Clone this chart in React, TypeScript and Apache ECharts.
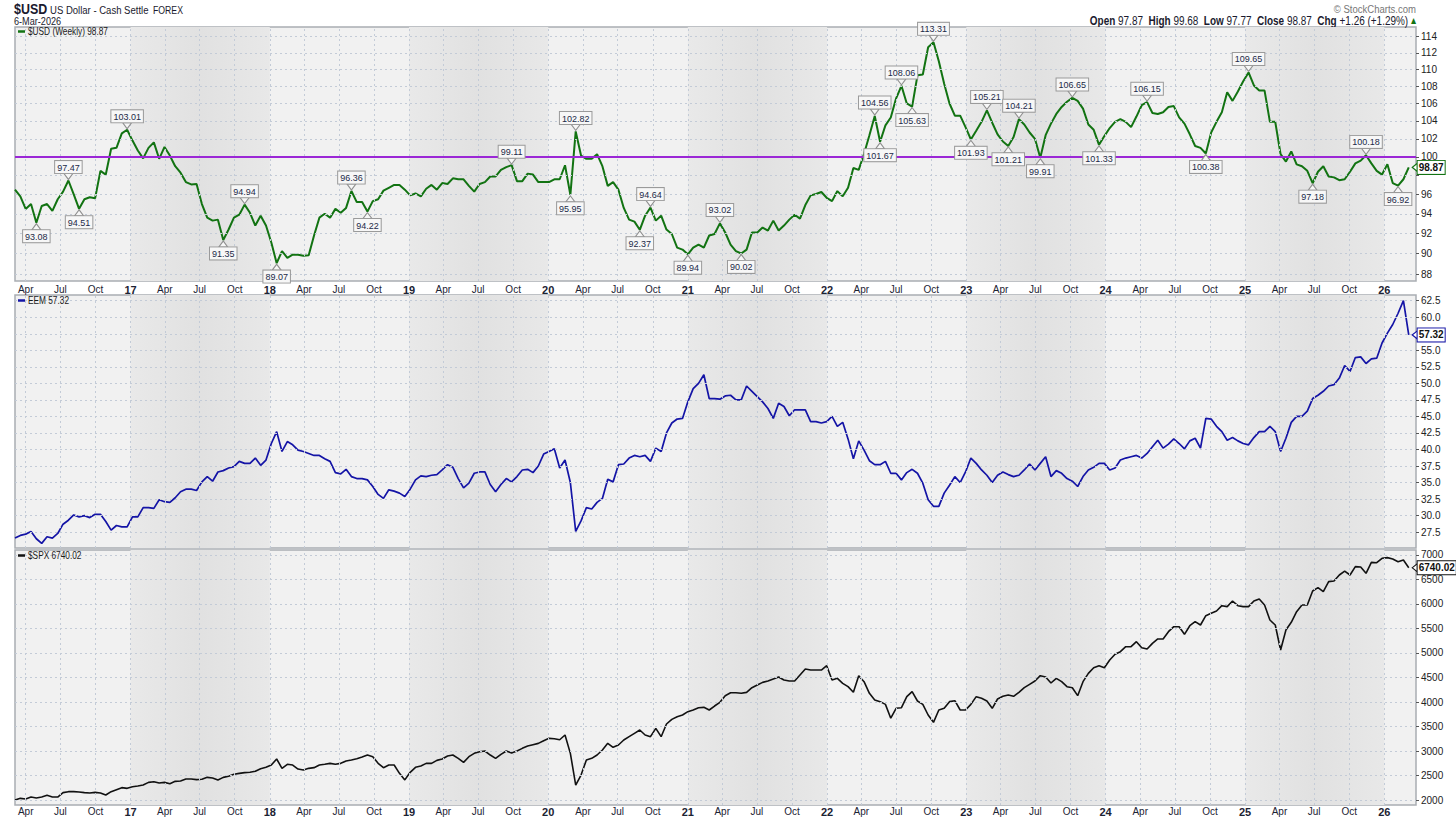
import React, { useEffect, useRef } from 'react';
import * as echarts from 'echarts';

// ---------- time base (weekly closes sampled every two weeks) ----------
const START = Date.UTC(2016, 2, 4);
const AXIS_END = Date.UTC(2026, 2, 25);
const STEP_DAYS = 14;
const DAY = 86400000;

// ---------- data ----------
const usdValues = [
  96.5, 95.8, 94.5, 95.0, 93.08, 94.8, 95.0, 94.3, 95.5, 96.3,
  97.47, 96.0, 94.51, 95.5, 95.7, 95.6, 98.5, 98.1, 100.9, 101.0,
  102.6, 103.01, 101.8, 100.7, 99.85, 101.0, 101.6, 99.8, 101.1, 100.15,
  99.0, 98.3, 97.3, 97.05, 97.1, 95.0, 93.6, 93.3, 93.4, 91.35,
  92.4, 93.6, 93.9, 94.94, 94.1, 92.8, 93.8, 92.8, 91.1, 89.07,
  90.25, 89.6, 89.9, 89.9, 89.8, 89.85, 91.8, 93.6, 94.0, 93.6,
  94.5, 94.1, 94.6, 96.36, 95.2, 95.2, 94.22, 95.3, 95.5, 96.4,
  96.7, 97.0, 97.0, 96.5, 95.9, 96.1, 95.8, 96.6, 97.0, 96.5,
  97.2, 97.1, 97.7, 97.6, 97.6, 96.9, 96.3, 97.1, 97.3, 97.9,
  97.9, 98.6, 98.9, 99.11, 97.4, 97.4, 98.2, 98.1, 97.3, 97.3,
  97.3, 97.6, 97.6, 99.1, 95.95, 102.82, 100.15, 99.8, 99.8, 100.3,
  99.0, 96.9, 97.3, 96.5, 94.6, 93.4, 93.2, 92.37, 93.8, 94.64,
  93.3, 93.8, 92.4, 91.95, 90.6, 90.4, 89.94, 90.6, 90.9, 90.6,
  91.8, 91.95, 93.02, 92.1, 90.9, 90.25, 90.02, 90.4, 92.1, 92.1,
  92.6, 92.3, 93.3, 92.3, 92.8, 93.4, 93.9, 93.5, 94.9, 95.9,
  96.05, 96.25, 95.65, 95.3, 96.35, 95.8, 96.7, 98.8, 98.6, 100.35,
  102.4, 104.56, 101.67, 103.5, 104.4, 106.6, 108.06, 106.0, 105.63, 109.3,
  109.4, 112.7, 113.31, 111.0, 108.3, 106.0, 104.6, 104.6, 103.3, 101.93,
  102.9, 103.9, 105.21, 103.8, 102.5, 101.7, 101.21, 102.2, 104.21, 103.6,
  102.7, 102.0, 99.91, 102.4, 103.7, 104.8, 105.6, 106.2, 106.65, 106.3,
  105.4, 103.6, 103.0, 101.33, 102.3, 103.2, 103.9, 104.2, 103.9, 103.3,
  104.5, 105.8, 106.15, 104.9, 104.8, 105.0, 105.6, 105.7, 104.4, 103.7,
  102.5, 101.2, 101.0, 100.38, 102.7, 103.9, 105.0, 107.3, 106.3, 107.4,
  108.6, 109.65, 108.1, 107.5, 107.5, 103.9, 103.9, 100.3, 99.5, 100.6,
  99.2, 99.0, 98.5, 97.18, 98.4, 99.0, 97.9, 97.8, 97.5, 97.6,
  98.4, 99.3, 99.6, 100.18, 99.3, 98.5, 98.1, 99.2, 97.2, 96.92,
  97.6, 98.87,
];

const eemValues = [
  26.6, 27.0, 27.2, 27.6, 26.5, 25.8, 26.8, 26.6, 27.3, 28.7,
  29.3, 30.1, 29.8, 30.0, 29.7, 30.2, 30.2, 29.1, 27.8, 28.5,
  28.3, 28.3, 29.8, 29.8, 31.2, 31.2, 31.1, 32.4, 32.1, 32.0,
  32.7, 33.6, 34.0, 34.0, 33.8, 35.1, 35.9, 35.2, 36.6, 36.8,
  37.2, 37.4, 38.2, 37.9, 37.9, 38.7, 37.6, 38.4, 40.9, 42.7,
  39.7, 41.2, 40.7, 39.9, 39.7, 39.4, 39.1, 39.1, 38.6, 38.2,
  36.5, 36.3, 37.0, 35.9, 35.6, 35.6, 35.4, 34.4, 33.2, 32.6,
  33.9, 33.7, 33.4, 32.9, 34.0, 35.4, 36.0, 35.9, 36.1, 36.2,
  36.9, 37.7, 37.3, 35.6, 34.2, 34.9, 36.4, 36.6, 36.6, 34.7,
  33.6, 34.7, 35.6, 35.1, 35.9, 36.9, 37.0, 36.5, 37.5, 39.3,
  39.7, 40.1, 37.2, 38.4, 35.0, 27.6, 29.2, 31.2, 31.0, 32.0,
  32.6, 35.5, 35.1, 37.7, 37.8, 38.7, 39.1, 38.9, 39.1, 38.2,
  40.2, 39.7, 42.5, 44.0, 44.6, 44.7, 47.2, 49.2, 50.0, 51.3,
  47.7, 47.7, 47.6, 48.1, 48.2, 47.5, 47.5, 49.6, 48.8, 48.0,
  47.2, 46.2, 44.7, 47.0, 46.5, 45.1, 46.0, 46.0, 46.0, 44.2,
  44.2, 44.0, 44.2, 45.0, 43.5, 44.1, 41.6, 38.6, 41.3, 39.9,
  38.3, 37.7, 37.7, 38.2, 36.4, 36.4, 35.4, 36.5, 37.0, 36.4,
  34.9, 32.4, 31.4, 31.4, 33.4, 34.6, 35.9, 35.0, 36.6, 38.7,
  37.9, 36.9, 36.1, 35.0, 36.1, 36.6, 36.2, 35.9, 36.1, 36.9,
  37.8, 36.9, 37.9, 38.9, 35.9, 36.8, 36.4, 35.6, 35.2, 34.4,
  35.9, 36.9, 37.3, 37.9, 37.9, 36.9, 37.2, 38.4, 38.7, 38.9,
  39.1, 38.7, 39.4, 40.4, 41.4, 40.2, 40.8, 41.6, 40.9, 40.1,
  41.3, 41.7, 40.2, 44.7, 44.6, 43.5, 42.7, 41.4, 41.8, 41.3,
  40.9, 40.7, 41.8, 42.7, 42.7, 43.5, 42.7, 39.7, 41.7, 44.1,
  45.0, 45.0, 45.8, 47.7, 48.2, 48.8, 49.6, 49.8, 50.8, 52.7,
  51.8, 53.9, 54.0, 53.0, 53.7, 53.8, 56.1, 57.6, 58.9, 60.6,
  62.5, 57.32,
];

const spxValues = [
  2000, 2034, 2020, 2061, 2041, 2061, 2095, 2061, 2060, 2150,
  2170, 2170, 2163, 2150, 2143, 2156, 2143, 2102, 2170, 2211,
  2252, 2238, 2272, 2286, 2306, 2360, 2374, 2347, 2360, 2333,
  2381, 2388, 2428, 2428, 2415, 2422, 2462, 2449, 2408, 2462,
  2483, 2524, 2544, 2558, 2565, 2585, 2639, 2667, 2714, 2837,
  2646, 2728, 2714, 2632, 2612, 2646, 2660, 2714, 2728, 2748,
  2728, 2748, 2796, 2816, 2843, 2877, 2918, 2884, 2748, 2660,
  2714, 2714, 2544, 2410, 2565, 2667, 2694, 2748, 2748, 2809,
  2837, 2898, 2918, 2850, 2768, 2884, 2952, 2986, 3000, 2918,
  2850, 2932, 3000, 2959, 3000, 3054, 3102, 3129, 3156, 3211,
  3258, 3250, 3230, 3327, 2952, 2305, 2510, 2816, 2850, 2918,
  3020, 3156, 3075, 3122, 3224, 3292, 3360, 3428, 3326, 3292,
  3462, 3292, 3551, 3646, 3700, 3735, 3803, 3837, 3884, 3891,
  3837, 3918, 3993, 4129, 4190, 4190, 4177, 4197, 4292, 4347,
  4401, 4428, 4469, 4510, 4449, 4428, 4428, 4551, 4673, 4653,
  4653, 4653, 4741, 4449, 4483, 4381, 4313, 4200, 4537, 4415,
  4177, 4041, 4007, 3952, 3670, 3871, 3884, 4109, 4211, 4020,
  3952, 3735, 3585, 3837, 3871, 4007, 4027, 3837, 3837, 3952,
  4109, 4075, 4020, 3871, 4061, 4116, 4143, 4116, 4197, 4292,
  4360, 4428, 4537, 4510, 4388, 4483, 4415, 4313, 4292, 4129,
  4415, 4585, 4700, 4741, 4700, 4857, 4973, 5027, 5129, 5129,
  5231, 5109, 5082, 5197, 5286, 5286, 5435, 5537, 5537, 5381,
  5557, 5639, 5571, 5762, 5810, 5857, 5966, 5946, 6061, 5966,
  5946, 5946, 6061, 6102, 5980, 5673, 5571, 5062, 5469, 5626,
  5843, 5980, 5980, 6265, 6333, 6252, 6456, 6469, 6592, 6673,
  6592, 6762, 6755, 6626, 6850, 6843, 6932, 6946, 6918, 6864,
  6898, 6740.02,
];

// annotated swing highs / lows on the $USD panel (indices into usdValues)
const usdPeakIdx = [10, 21, 43, 63, 93, 105, 119, 132, 161, 166, 172, 182, 188, 198, 212, 231, 253];
const usdTroughIdx = [4, 12, 39, 49, 66, 104, 117, 126, 136, 162, 168, 179, 186, 192, 203, 223, 243, 259];

// ---------- axes ----------
const usdTicks = [88, 90, 92, 94, 96, 98, 100, 102, 104, 106, 108, 110, 112, 114];
const usdTickLabels = [88, 90, 92, 94, 96, 100, 102, 104, 106, 108, 110, 112, 114]; // 98 sits under the price tag
const eemTicks = [27.5, 30, 32.5, 35, 37.5, 40, 42.5, 45, 47.5, 50, 52.5, 55, 57.5, 60, 62.5];
const eemTickLabels = [27.5, 30, 32.5, 35, 37.5, 40, 42.5, 45, 47.5, 50, 52.5, 55, 60, 62.5]; // 57.5 sits under the tag
const spxTicks = [2000, 2500, 3000, 3500, 4000, 4500, 5000, 5500, 6000, 6500, 7000];
const usdRange = [87.36, 115.21];
const eemRange = [25.1, 63.36];
const spxRange = [1898, 7102];
const usdRefLevel = 100;
const tickYears = [2016, 2017, 2018, 2019, 2020, 2021, 2022, 2023, 2024, 2025, 2026];
const shadedYears = [2017, 2019, 2021, 2023, 2025];
const monthLabels: Record<number, string> = { 3: 'Apr', 6: 'Jul', 9: 'Oct' };

// ---------- header texts ----------
const headerSymbol = '$USD';
const headerName = 'US Dollar - Cash Settle';
const headerExchange = 'FOREX';
const headerDate = '6-Mar-2026';
const quote = { open: '97.87', high: '99.68', low: '97.77', close: '98.87', chg: '+1.26 (+1.29%)' };

const FONT = '"Liberation Sans", Arial, sans-serif';
const GREEN = '#127312';
const BLUE = '#1414a6';
const BLACK = '#111111';
const NARROW = 0.83; // horizontal squeeze of the reference's lettering

const tAt = (i: number) => START + i * STEP_DAYS * DAY;

const quarterTicks: number[] = [];
tickYears.forEach((y) => {
  [0, 3, 6, 9].forEach((m) => {
    const t = Date.UTC(y, m, 1);
    if (t > START && t < AXIS_END) quarterTicks.push(t);
  });
});

const fmtX = (v: number) => {
  const d = new Date(Math.round(v));
  const m = d.getUTCMonth();
  if (m === 0) return `{y|${String(d.getUTCFullYear()).slice(2)}}`;
  return monthLabels[m] || '';
};

const GRID_COLOR = '#c3cbd7';

function makeGrid(top: number, height: number) {
  return {
    left: 15, top, width: 1401, height,
    show: true, backgroundColor: '#f1f1f1', borderColor: '#a9adb2', borderWidth: 1.5,
    containLabel: false, outerBoundsMode: 'none',
  };
}

function makeXAxis(k: number, showLabels: boolean, margin: number) {
  return {
    type: 'value', gridIndex: k, min: START, max: AXIS_END,
    axisLine: { show: false }, axisTick: { show: false }, splitLine: { show: false },
    axisLabel: {
      show: showLabels, customValues: quarterTicks, formatter: fmtX, margin,
      fontSize: 10, color: '#1c2333', fontFamily: FONT, hideOverlap: false,
      rich: { y: { fontSize: 11, fontWeight: 'bold', color: '#1c2333', fontFamily: FONT } },
    },
  };
}

function makeYAxis(k: number, min: number, max: number, ticks: number[], labels: number[], formatter: (v: number) => string) {
  return {
    type: 'value', gridIndex: k, position: 'right', min, max,
    axisLine: { show: false }, splitLine: { show: false },
    axisTick: { show: true, customValues: ticks, length: 3, lineStyle: { color: '#555' } },
    axisLabel: {
      customValues: labels, formatter, margin: 5, fontSize: 10, color: '#222',
      fontFamily: FONT, hideOverlap: false,
    },
  };
}

function helperSeries(k: number, yTicks: number[], yMin: number) {
  return {
    type: 'line', xAxisIndex: k, yAxisIndex: k,
    data: [[START, yMin], [AXIS_END, yMin]],
    symbol: 'none', showSymbol: false, lineStyle: { opacity: 0, width: 0 },
    silent: true, z: 1, emphasis: { disabled: true },
    markArea: {
      silent: true,
      data: shadedYears.map((y) => [
        {
          xAxis: Date.UTC(y, 0, 1),
          itemStyle: {
            color: {
              type: 'linear', x: 0, y: 0, x2: 1, y2: 0,
              colorStops: [
                { offset: 0, color: '#e9e9e9' },
                { offset: 0.5, color: '#e1e1e1' },
                { offset: 1, color: '#e8e8e8' },
              ],
            },
          },
        },
        { xAxis: Date.UTC(y + 1, 0, 1) },
      ]),
    },
    markLine: {
      silent: true, symbol: ['none', 'none'], label: { show: false }, precision: 12,
      emphasis: { disabled: true },
      lineStyle: { color: GRID_COLOR, type: [2, 3], width: 1 },
      data: [
        ...quarterTicks.map((t) => ({ xAxis: t })),
        ...yTicks.map((v) => ({ yAxis: v })),
      ],
    },
  };
}

function valueTag(k: number, y: number, text: string, color: string) {
  return {
    coord: [tAt(k), y], name: text,
    symbol: 'triangle', symbolSize: [8, 5], symbolRotate: 90, symbolOffset: [6, 0],
    itemStyle: { color: '#ffffff', borderColor: color, borderWidth: 1 },
    label: {
      show: true, position: 'right', distance: 0, formatter: '{b}',
      color: '#111', fontWeight: 'bold', fontSize: 10, fontFamily: FONT,
      backgroundColor: '#ffffff', borderColor: color, borderWidth: 1, padding: [2, 1, 1, 1],
    },
  };
}

function swingMark(i: number, peak: boolean) {
  const v = usdValues[i];
  return {
    coord: [tAt(i), Math.log(v)], name: v.toFixed(2),
    symbol: 'triangle', symbolSize: [9, 6], symbolRotate: peak ? 180 : 0,
    symbolOffset: [0, peak ? -4 : 4],
    itemStyle: { color: '#f7f7f7', borderColor: '#8f8f8f', borderWidth: 1 },
    label: {
      show: true, position: peak ? 'top' : 'bottom', distance: 0, formatter: '{b}',
      color: '#1b2a48', fontSize: 9, fontFamily: FONT,
      backgroundColor: '#f7f7f7', borderColor: '#9a9a9a', borderWidth: 1, padding: [2, 2, 1, 2],
    },
  };
}

function buildOption() {
  const last = usdValues.length - 1;
  const usdData = usdValues.map((v, i) => [tAt(i), Math.log(v)]);
  const eemData = eemValues.map((v, i) => [tAt(i), v]);
  const spxData = spxValues.map((v, i) => [tAt(i), v]);
  const lnTicks = usdTicks.map((v) => Math.log(v));
  const lnTickLabels = usdTickLabels.map((v) => Math.log(v));

  const legend = (y: number, color: string, text: string) => [
    { type: 'rect', shape: { x: 18, y: y - 1.25, width: 7, height: 2.5 }, style: { fill: color }, z: 100 },
    {
      type: 'text', x: 28, y, z: 100, scaleX: NARROW,
      style: {
        text, fill: '#1a1a1a', fontSize: 10, fontFamily: FONT,
        verticalAlign: 'middle', textVerticalAlign: 'middle',
      },
    },
  ];

  const topText = (x: number, y: number, text: string, size: number, bold: boolean, fill: string) => ({
    type: 'text', x, y, scaleX: NARROW,
    style: {
      text, fill, fontSize: size, fontWeight: bold ? 'bold' : 'normal', fontFamily: FONT,
      verticalAlign: 'top', textVerticalAlign: 'top',
    },
  });

  return {
    animation: false,
    backgroundColor: '#ffffff',
    textStyle: { fontFamily: FONT },
    grid: [makeGrid(27, 254), makeGrid(295, 253), makeGrid(550, 255)],
    xAxis: [makeXAxis(0, true, 3), makeXAxis(1, false, 3), makeXAxis(2, true, 1)],
    yAxis: [
      makeYAxis(0, Math.log(usdRange[0]), Math.log(usdRange[1]), lnTicks, lnTickLabels, (v: number) => String(Math.round(Math.exp(v)))),
      makeYAxis(1, eemRange[0], eemRange[1], eemTicks, eemTickLabels, (v: number) => v.toFixed(1)),
      makeYAxis(2, spxRange[0], spxRange[1], spxTicks, spxTicks, (v: number) => String(Math.round(v))),
    ],
    series: [
      helperSeries(0, lnTicks, Math.log(usdRange[0])),
      helperSeries(1, eemTicks, eemRange[0]),
      helperSeries(2, spxTicks, spxRange[0]),
      {
        type: 'line', xAxisIndex: 0, yAxisIndex: 0, data: usdData,
        symbol: 'none', showSymbol: false, silent: true, z: 3, emphasis: { disabled: true },
        lineStyle: { color: GREEN, width: 2 }, itemStyle: { color: GREEN },
        markLine: {
          silent: true, symbol: ['none', 'none'], label: { show: false }, precision: 12,
          emphasis: { disabled: true },
          lineStyle: { color: '#9b27d6', type: 'solid', width: 2 },
          data: [{ yAxis: Math.log(usdRefLevel) }],
        },
        markPoint: {
          silent: true,
          data: [
            ...usdPeakIdx.map((i) => swingMark(i, true)),
            ...usdTroughIdx.map((i) => swingMark(i, false)),
            valueTag(last, Math.log(usdValues[last]), usdValues[last].toFixed(2), GREEN),
          ],
        },
      },
      {
        type: 'line', xAxisIndex: 1, yAxisIndex: 1, data: eemData,
        symbol: 'none', showSymbol: false, silent: true, z: 3, emphasis: { disabled: true },
        lineStyle: { color: BLUE, width: 1.7 }, itemStyle: { color: BLUE },
        markPoint: {
          silent: true,
          data: [valueTag(last, eemValues[last], eemValues[last].toFixed(2), BLUE)],
        },
      },
      {
        type: 'line', xAxisIndex: 2, yAxisIndex: 2, data: spxData,
        symbol: 'none', showSymbol: false, silent: true, z: 3, emphasis: { disabled: true },
        lineStyle: { color: BLACK, width: 1.6 }, itemStyle: { color: BLACK },
        markPoint: {
          silent: true,
          data: [valueTag(last, spxValues[last], spxValues[last].toFixed(2), BLACK)],
        },
      },
    ],
    graphic: [
      topText(14, 1.5, headerSymbol, 15, true, '#1a1a2e'),
      topText(50, 3.5, headerName, 11.5, false, '#1a1a2e'),
      topText(153, 5, headerExchange, 10.5, false, '#1a1a2e'),
      topText(14, 15.5, headerDate, 11, false, '#1a1a2e'),
      {
        type: 'text', x: 1416, y: 3, scaleX: NARROW,
        style: {
          text: '\u00A9 StockCharts.com', fill: '#777', fontSize: 11.5, fontFamily: FONT,
          align: 'right', textAlign: 'right', verticalAlign: 'top', textVerticalAlign: 'top',
        },
      },
      {
        type: 'text', x: 1416, y: 14.5, scaleX: NARROW,
        style: {
          text:
            `{b|Open} {n|${quote.open}}  {b|High} {n|${quote.high}}  {b|Low} {n|${quote.low}}  ` +
            `{b|Close} {n|${quote.close}}  {b|Chg} {n|${quote.chg}} {g|\u25B2}`,
          align: 'right', textAlign: 'right', verticalAlign: 'top', textVerticalAlign: 'top',
          fontFamily: FONT, fontSize: 12, fill: '#1a1a2e',
          rich: {
            b: { fontWeight: 'bold', fontSize: 12, fontFamily: FONT, fill: '#1a1a2e', color: '#1a1a2e' },
            n: { fontSize: 12, fontFamily: FONT, fill: '#1a1a2e', color: '#1a1a2e' },
            g: { fontSize: 8, fontFamily: 'DejaVu Sans', fill: GREEN, color: GREEN },
          },
        },
      },
      ...legend(31.5, GREEN, `$USD (Weekly) ${usdValues[last].toFixed(2)}`),
      ...legend(300.5, BLUE, `EEM ${eemValues[last].toFixed(2)}`),
      ...legend(555.5, BLACK, `$SPX ${spxValues[last].toFixed(2)}`),
    ],
  };
}

export default function App() {
  const ref = useRef<HTMLDivElement | null>(null);
  useEffect(() => {
    document.body.style.margin = '0';
    if (!ref.current) return;
    const chart = echarts.init(ref.current, undefined, { renderer: 'svg' });
    chart.setOption(buildOption() as any);
    return () => chart.dispose();
  }, []);
  return <div ref={ref} style={{ width: 1456, height: 819, background: '#fff' }} />;
}
